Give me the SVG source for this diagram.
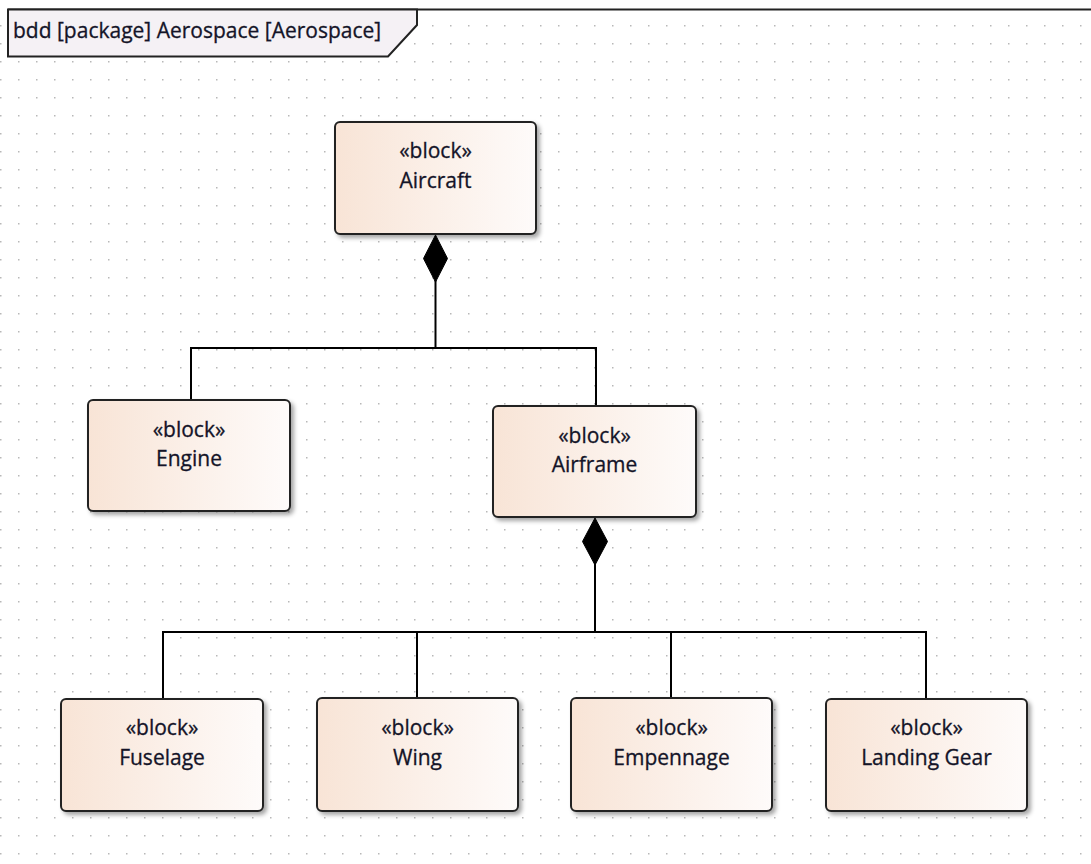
<svg xmlns="http://www.w3.org/2000/svg" width="1091" height="864" viewBox="0 0 1091 864">
  <style>
    .blk { stroke: #222; stroke-width: 2; fill: url(#blockFill); filter: url(#shadow); }
    .st { font-family: "Open Sans", "Noto Sans", "Liberation Sans", sans-serif; font-size: 21px; fill: #141428; text-anchor: middle; stroke: #141428; stroke-width: 0.3; }
    .nm { font-family: "Open Sans", "Noto Sans", "Liberation Sans", sans-serif; font-size: 21px; fill: #141428; text-anchor: middle; stroke: #141428; stroke-width: 0.3; }
    .conn { stroke: #000; stroke-width: 2; fill: none; }
    .dia { fill: #000; stroke: #000; stroke-width: 1; }
    .frame { stroke: #222; stroke-width: 2; }
    .title { font-family: "Open Sans", "Noto Sans", "Liberation Sans", sans-serif; font-size: 21px; fill: #141428; stroke: #141428; stroke-width: 0.3; }
  </style>
  <defs>
    <pattern id="grid" patternUnits="userSpaceOnUse" x="18" y="61" width="18" height="18">
      <rect x="0" y="0" width="1.5" height="1.5" fill="#b8b8b8"/>
    </pattern>
    <linearGradient id="blockFill" x1="0" y1="0" x2="1" y2="0">
      <stop offset="0" stop-color="#f8e4d6"/>
      <stop offset="1" stop-color="#fefbfa"/>
    </linearGradient>
    <filter id="shadow" x="-10%" y="-10%" width="130%" height="130%">
      <feDropShadow dx="3" dy="3" stdDeviation="2" flood-color="#000" flood-opacity="0.35"/>
    </filter>
  </defs>

  <rect x="0" y="0" width="1091" height="864" fill="#ffffff"/>
  <rect x="0" y="11" width="1091" height="853" fill="url(#grid)"/>

  <g id="frame">
    <line class="frame" x1="8" y1="9.5" x2="1091" y2="9.5"/>
    <path d="M8,9.5 V56.5 H388 L417,25 V9.5 Z" fill="#f5f1f5" stroke="#222" stroke-width="2"/>
    <text class="title" x="13" y="38">bdd [package] Aerospace [Aerospace]</text>
  </g>

  <g id="connectors">
    <polygon class="dia" points="435.5,235 447.5,258.5 435.5,282 423.5,258.5"/>
    <line class="conn" x1="435.5" y1="280" x2="435.5" y2="348"/>
    <polyline class="conn" points="191,400 191,348 596,348 596,406"/>
    <polygon class="dia" points="595,518 607.5,541.5 595,565 582.5,541.5"/>
    <line class="conn" x1="595" y1="563" x2="595" y2="632"/>
    <polyline class="conn" points="163,699 163,632 926,632 926,699"/>
    <line class="conn" x1="417" y1="632" x2="417" y2="698"/>
    <line class="conn" x1="671" y1="632" x2="671" y2="698"/>
  </g>

  <g id="aircraft">
    <rect class="blk" x="335" y="122" width="201" height="112" rx="5"/>
    <text class="st" x="435.5" y="158">«block»</text>
    <text class="nm" x="435.5" y="188">Aircraft</text>
  </g>
  <g id="engine">
    <rect class="blk" x="88" y="400" width="202" height="111" rx="5"/>
    <text class="st" x="189" y="437">«block»</text>
    <text class="nm" x="189" y="466">Engine</text>
  </g>
  <g id="airframe">
    <rect class="blk" x="493" y="406" width="203" height="111" rx="5"/>
    <text class="st" x="594.5" y="443">«block»</text>
    <text class="nm" x="594.5" y="472">Airframe</text>
  </g>
  <g id="fuselage">
    <rect class="blk" x="61" y="699" width="202" height="112" rx="5"/>
    <text class="st" x="162" y="735">«block»</text>
    <text class="nm" x="162" y="765">Fuselage</text>
  </g>
  <g id="wing">
    <rect class="blk" x="317" y="698" width="201" height="113" rx="5"/>
    <text class="st" x="417.5" y="735">«block»</text>
    <text class="nm" x="417.5" y="765">Wing</text>
  </g>
  <g id="empennage">
    <rect class="blk" x="571" y="698" width="201" height="113" rx="5"/>
    <text class="st" x="671.5" y="735">«block»</text>
    <text class="nm" x="671.5" y="765">Empennage</text>
  </g>
  <g id="landing-gear">
    <rect class="blk" x="826" y="699" width="201" height="112" rx="5"/>
    <text class="st" x="926.5" y="735">«block»</text>
    <text class="nm" x="926.5" y="765">Landing Gear</text>
  </g>
</svg>
